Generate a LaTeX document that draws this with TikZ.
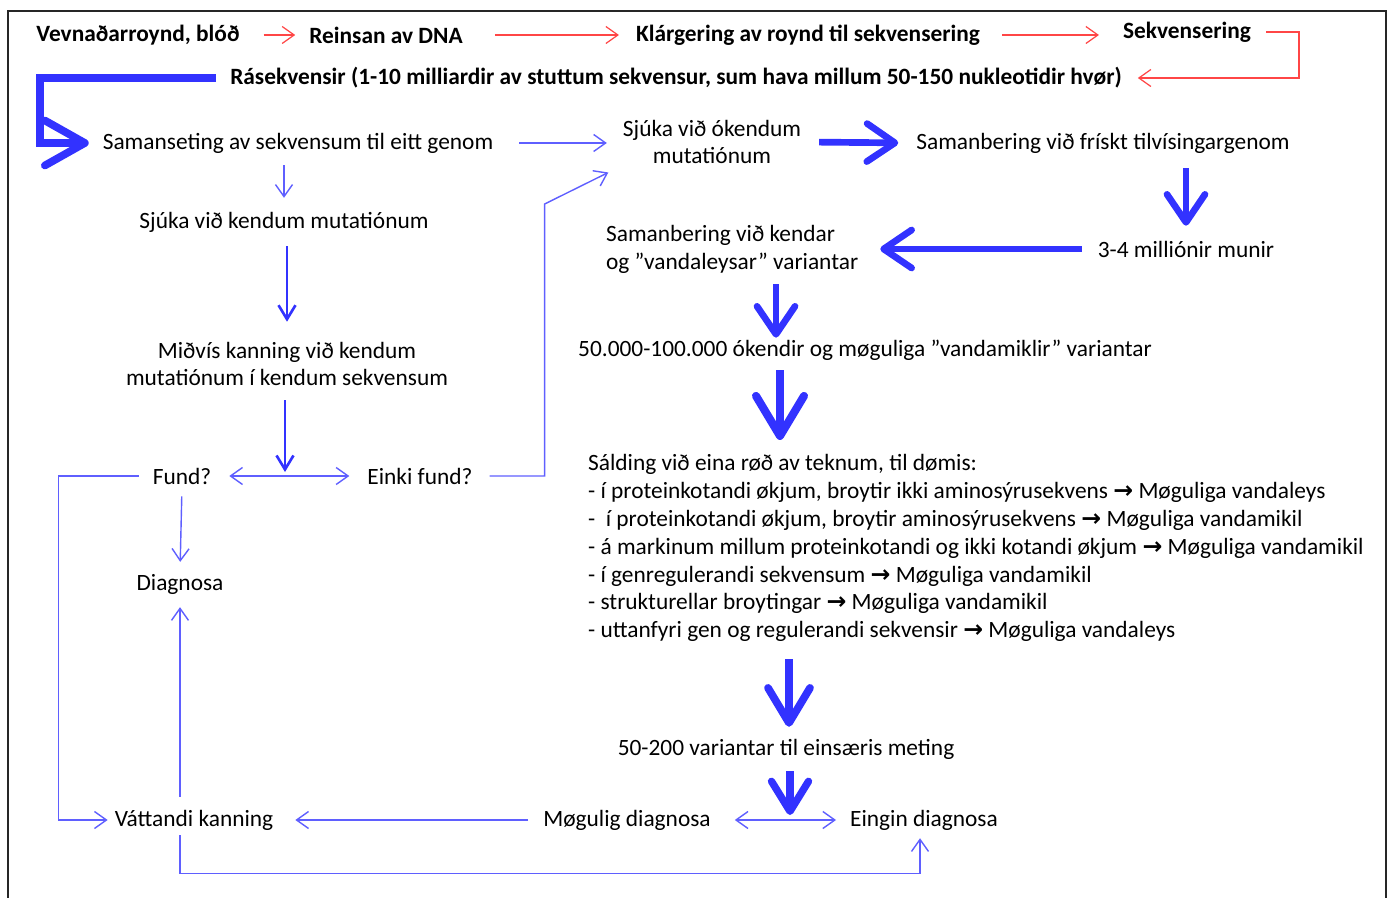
\documentclass[tikz,border=0pt]{standalone}
\usepackage{fontspec}
\setmainfont{Carlito}
\newfontfamily\symfont{DejaVu Sans}
\usepackage{xcolor}
\usepackage{tikz}
\usetikzlibrary{arrows.meta, positioning, calc}

\definecolor{arrred}{RGB}{255,70,70}
\definecolor{thinblue}{RGB}{95,95,255}
\definecolor{fatblue}{RGB}{50,50,255}

\newcommand{\tto}{{\symfont\bfseries\fontsize{13.5}{15}\selectfont →}}

\begin{document}
\begin{tikzpicture}[
    x=0.02cm, y=-0.02cm,
    lbl/.style={font=\fontsize{13.3}{15.9}\selectfont, inner sep=1pt, align=center},
    hdr/.style={font=\fontsize{13.3}{15.9}\selectfont\bfseries, inner sep=1pt, align=center},
    redarrow/.style={-{Straight Barb[length=2.4mm, width=3.4mm]}, draw=arrred, line width=0.7pt},
    thin/.style={-{Straight Barb[length=2.4mm, width=3.4mm]}, draw=thinblue, line width=0.8pt},
    both/.style={{Straight Barb[length=2.4mm, width=3.4mm]}-{Straight Barb[length=2.4mm, width=3.4mm]}, draw=thinblue, line width=0.8pt},
    medium/.style={-{Straight Barb[length=2.8mm, width=3.4mm]}, draw=fatblue, line width=1.5pt},
    fat/.style={-{Straight Barb[round, length=5.6mm, width=7.6mm]}, draw=fatblue, line width=3.8pt},
    frame/.style={draw=black!85, line width=1pt}
]
\useasboundingbox (0,0) rectangle (1392,898);

% Frame
\draw[frame] (8,898) -- (8,11) -- (1386,11) -- (1386,898);

% Lab steps
\node[hdr] (vevn) at (138,35) {Vevnaðarroynd, blóð};
\node[hdr] (reins) at (386,35) {Reinsan av DNA};
\node[hdr] (klar) at (808,35) {Klárgering av roynd til sekvensering};
\node[hdr] (sekv) at (1187,32) {Sekvensering};
\node[hdr] (rase) at (676,78) {Rásekvensir (1-10 milliardir av stuttum sekvensur, sum hava millum 50-150 nukleotidir hvør)};

% Left column
\node[lbl] (saman) at (298,143) {Samanseting av sekvensum til eitt genom};
\node[lbl] (kendum) at (284,222) {Sjúka við kendum mutatiónum};
\node[lbl] (midvis) at (287,364) {Miðvís kanning við kendum\\mutatiónum í kendum sekvensum};
\node[lbl] (fund) at (182,476) {Fund?};
\node[lbl] (einki) at (420,476) {Einki fund?};
\node[lbl] (diag) at (180,584) {Diagnosa};
\node[lbl] (vatt) at (194,820) {Váttandi kanning};
\node[lbl] (mogul) at (627,820) {Møgulig diagnosa};
\node[lbl] (eingin) at (924,820) {Eingin diagnosa};
\coordinate (split) at (285,477);
\coordinate (bend) at (40,78);

% Right column
\node[lbl] (ukendum) at (712,142) {Sjúka við ókendum\\mutatiónum};
\node[lbl] (frisk) at (1103,143) {Samanbering við frískt tilvísingargenom};
\node[lbl] (munir) at (1186,249) {3-4 milliónir munir};
\node[lbl, anchor=west, align=left] (kendar) at (604,249) {Samanbering við kendar\\og ”vandaleysar” variantar};
\node[lbl] (okendir) at (865,350) {50.000-100.000 ókendir og møguliga ”vandamiklir” variantar};
\node[lbl, anchor=west, align=left] (salding) at (586,548) {Sálding við eina røð av teknum, til dømis:\\
- í proteinkotandi økjum, broytir ikki aminosýrusekvens \tto{} Møguliga vandaleys\\
-\ \ í proteinkotandi økjum, broytir aminosýrusekvens \tto{} Møguliga vandamikil\\
- á markinum millum proteinkotandi og ikki kotandi økjum \tto{} Møguliga vandamikil\\
- í genregulerandi sekvensum \tto{} Møguliga vandamikil\\
- strukturellar broytingar \tto{} Møguliga vandamikil\\
- uttanfyri gen og regulerandi sekvensir \tto{} Møguliga vandaleys};
\node[lbl] (fimti) at (786,749) {50-200 variantar til einsæris meting};

% Red arrows
\draw[redarrow, shorten <=0.44cm, shorten >=0.24cm] (vevn.east) -- (reins.west);
\draw[redarrow, shorten <=0.6cm, shorten >=0.3cm] (reins.east) -- (klar.west);
\draw[redarrow, shorten <=0.4cm, shorten >=0.44cm] (klar.east) -- (klar.east -| sekv.west);
\draw[redarrow, shorten <=0.26cm, shorten >=0.28cm] (sekv.east) -- ++(46,0) |- (rase.east);

% Thick arrows
\draw[fat, line width=4.4pt, -{Straight Barb[round, length=8mm, width=9mm]}, shorten <=0.24cm, shorten >=0.24cm] (rase.west) -- (bend) |- (saman.west);
\draw[fat, shorten <=0.32cm, shorten >=0.32cm] (ukendum.east) -- (frisk.west);
\draw[fat, shorten <=0.26cm, shorten >=0.26cm] (frisk.south -| munir.north) -- (munir.north);
\draw[fat, shorten <=0.28cm, shorten >=0.4cm] (munir.west) -- (kendar.east);
\draw[fat, shorten <=0.18cm] (kendar.south -| 776,0) -- (okendir.north -| 776,0);
\draw[fat, line width=4.6pt, -{Straight Barb[round, length=8mm, width=9.6mm]}, shorten <=0.16cm, shorten >=0.24cm] (okendir.south -| 780,0) -- (salding.north -| 780,0);
\draw[fat, line width=4.4pt, -{Straight Barb[round, length=7mm, width=8.4mm]}, shorten <=0.3cm, shorten >=0.2cm] (salding.south -| 789,0) -- (fimti.north -| 789,0);
\draw[fat, line width=4.2pt, -{Straight Barb[round, length=6mm, width=7.4mm]}, shorten <=0.2cm] (fimti.south -| 790,0) -- (790,815);

% Left side flow
\draw[thin, shorten <=0.48cm, shorten >=0.28cm] (saman.east) -- (saman.east -| ukendum.west);
\draw[thin, shorten <=0.2cm, shorten >=0.24cm] (saman.south -| kendum.north) -- (kendum.north);
\draw[medium, shorten <=0.24cm, shorten >=0.36cm] (kendum.south -| 287,0) -- (midvis.north -| 287,0);
\draw[medium, shorten <=0.24cm, shorten >=0.1cm] (midvis.south -| split) -- (split);
\draw[both, shorten <=0.32cm, shorten >=0.32cm] (fund.east) -- (einki.west);
\draw[thin, shorten <=0.3cm, shorten >=0.28cm] (einki.east) -- ++(70,0) -- ++(0,-272) -- (ukendum.south west);
\draw[thin, shorten <=0.24cm, shorten >=0.1cm] (fund.west) -- ++(-92,0) |- (vatt.west);
\draw[thin, shorten <=0.2cm, shorten >=0.2cm] (fund.south) -- (diag.north);
\draw[thin, shorten <=0.22cm, shorten >=0.22cm] (vatt.north -| diag.south) -- (diag.south);
\draw[thin, shorten <=0.26cm, shorten >=0.4cm] (mogul.west) -- (vatt.east);
\draw[both, shorten <=0.44cm, shorten >=0.24cm] (mogul.east) -- (eingin.west);
\draw[thin, shorten <=0.06cm, shorten >=0.12cm] (vatt.south -| diag.south) -- ++(0,41) -| (eingin.south -| 920,0);

\end{tikzpicture}
\end{document}
